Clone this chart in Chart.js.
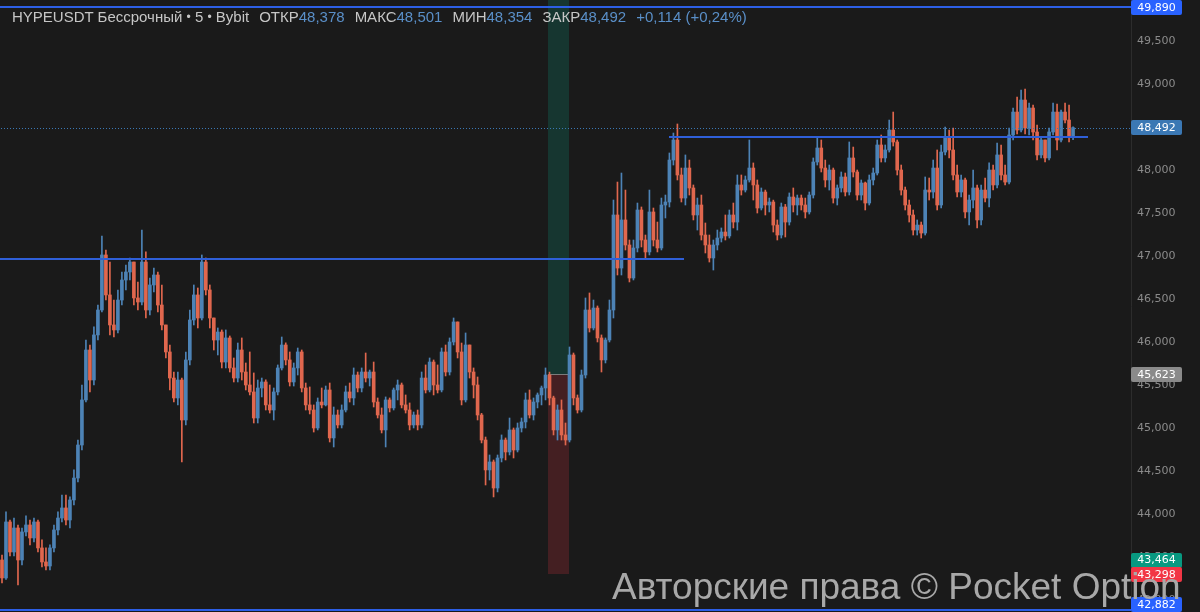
<!DOCTYPE html>
<html lang="ru">
<head>
<meta charset="UTF-8">
<title>HYPEUSDT 5m</title>
<script src="https://cdn.jsdelivr.net/npm/chart.js"></script>
<style>
  body { margin: 0; background: #1a1a1a; }
  .wrap { position: relative; width: 1200px; height: 612px; background: #1a1a1a; overflow: hidden; }
  .header { position: absolute; left: 12px; top: 8px; font: 15px "Liberation Sans", Arial, sans-serif; color: #c6c6c6; white-space: nowrap; }
  .header .v { color: #5a8fc8; }
  .header .g { margin-left: 10px; }
  .header .dot { font-size: 12px; vertical-align: 1px; }
  .watermark { position: absolute; left: 612px; top: 566px; font: 37px "Liberation Sans", Arial, sans-serif; color: #a8a8a8; white-space: nowrap; }
</style>
</head>
<body>
<div class="wrap">
  <canvas id="chart" width="1200" height="612"></canvas>
  <div class="header">HYPEUSDT Бессрочный <span class="dot">•</span> 5 <span class="dot">•</span> Bybit<span class="g">ОТКР</span><span class="v">48,378</span><span class="g">МАКС</span><span class="v">48,501</span><span class="g">МИН</span><span class="v">48,354</span><span class="g">ЗАКР</span><span class="v">48,492</span><span class="g v">+0,114 (+0,24%)</span></div>
  <div class="watermark">Авторские права © Pocket Option</div>
</div>
<script>
// 5-minute candles, oldest first. open of each candle = previous close
const firstOpen = 43465;
const closes = [
  43256, 43907, 43558, 43837, 43465, 43791, 43872, 43721, 43907, 43605,
  43442, 43395, 43605, 43814, 43953, 44070, 43930, 44163, 44418, 44802,
  45326, 45907, 45558, 46082, 46372, 47012, 46547, 46198, 46140, 46488,
  46721, 46814, 46930, 46512, 46465, 46930, 46372, 46663, 46779, 46430,
  46198, 45884, 45581, 45349, 45558, 45093, 45791, 46256, 46547, 46279,
  46930, 46605, 46279, 46023, 46116, 45767, 46047, 45698, 45581, 45907,
  45651, 45500, 45419, 45116, 45465, 45535, 45268, 45209, 45419, 45698,
  45965, 45791, 45535, 45698, 45884, 45465, 45268, 45209, 45000, 45302,
  45268, 45442, 44884, 45151, 45035, 45209, 45419, 45349, 45616, 45465,
  45651, 45581, 45651, 45302, 45151, 44977, 45326, 45233, 45442, 45500,
  45268, 45209, 45035, 45151, 45035, 45581, 45442, 45767, 45500, 45442,
  45884, 45651, 46000, 46233, 45884, 45326, 45965, 45651, 45500, 45151,
  44860, 44512, 44605, 44302, 44651, 44860, 44721, 44977, 44744, 45000,
  45070, 45326, 45151, 45302, 45384, 45465, 45616, 45349, 44977, 45209,
  44919, 44860, 45849, 45349, 45209, 45616, 46372, 46163, 46395, 46047,
  45791, 46023, 46372, 47477, 46860, 47419, 47128, 46744, 47093, 47535,
  47186, 47047, 47512, 47186, 47093, 47593, 47628, 48116, 48349, 47942,
  47674, 48023, 47791, 47477, 47593, 47244, 47128, 46977, 47128, 47209,
  47279, 47233, 47477, 47395, 47826, 47767, 47884, 48023, 47826, 47558,
  47744, 47593, 47628, 47360, 47244, 47570, 47395, 47686, 47593, 47674,
  47593, 47512, 47709, 48093, 48256, 48023, 47884, 48000, 47674, 47791,
  47919, 47744, 48140, 47977, 47709, 47849, 47616, 47884, 47965, 48291,
  48140, 48233, 48465, 48326, 48000, 47767, 47593, 47477, 47302, 47360,
  47267, 47767, 47744, 48023, 47593, 48209, 48372, 48233, 47942, 47744,
  47884, 47512, 47651, 47791, 47419, 47767, 47674, 48000, 47826, 48175,
  47942, 47860, 48407, 48674, 48465, 48814, 48488, 48721, 48442, 48175,
  48349, 48140, 48442, 48674, 48349, 48674, 48581, 48378, 48492
];
const highs = [
  43523, 44024, 43930, 43953, 43872, 43837, 43977, 43930, 43953, 43930,
  43698, 43605, 43640, 43872, 44024, 44221, 44221, 44198, 44512, 44860,
  45500, 46023, 45965, 46175, 46430, 47233, 47070, 46930, 46488, 46605,
  46814, 46895, 46977, 46930, 46698, 47302, 47047, 46744, 46860, 46814,
  46663, 46198, 45965, 45651, 45651, 45581, 45884, 46372, 46663, 46628,
  47012, 46977, 46663, 46279, 46163, 46140, 46140, 46070, 45814, 45988,
  46047, 45756, 45884, 45640, 45558, 45581, 45560, 45500, 45465, 45733,
  46058, 45990, 45884, 45756, 45930, 45907, 45523, 45477, 45268, 45349,
  45465, 45488, 45523, 45244, 45209, 45268, 45488, 45523, 45698, 45651,
  45698, 45872, 45674, 45767, 45349, 45233, 45361, 45349, 45465, 45558,
  45523, 45384, 45291, 45186, 45209, 45651, 45733, 45814, 45791, 45733,
  45930, 45965, 46047, 46279, 46233, 45988, 46105, 45965, 45698, 45593,
  45170, 44895, 44686, 44628, 44686, 44919, 44884, 45116, 45000, 45058,
  45116, 45407, 45442, 45349, 45407, 45488, 45698, 45650, 45370, 45268,
  45326, 45058, 45942, 45872, 45384, 45674, 46512, 46570, 46488, 46419,
  46082, 46047, 46488, 47651, 47860, 47965, 47767, 47186, 47186, 47616,
  47570, 47244, 47767, 47558, 47395, 47674, 47709, 48198, 48430, 48535,
  48023, 48175, 48116, 47826, 47674, 47709, 47384, 47244, 47186, 47302,
  47326, 47477, 47535, 47616, 47942, 47942, 47930, 48349, 48082, 47884,
  47791, 47767, 47674, 47650, 47419, 47616, 47600, 47733, 47791, 47709,
  47709, 47674, 47744, 48140, 48384, 48349, 48116, 48058, 48023, 47826,
  47977, 47965, 48326, 48267, 48000, 47884, 47860, 47942, 48023, 48349,
  48407, 48291, 48581, 48674, 48349, 48058, 47802, 47651, 47535, 47419,
  47395, 47919, 47907, 48116, 48233, 48291, 48500, 48465, 48488, 48058,
  47942, 47907, 47709, 48000, 47826, 47826, 47907, 48082, 48058, 48314,
  48291, 48058, 48488, 48721, 48849, 48930, 48942, 48779, 48756, 48523,
  48384, 48349, 48488, 48779, 48767, 48698, 48779, 48756, 48501
];
const lows = [
  43198, 43240, 43511, 43511, 43175, 43407, 43744, 43640, 43675, 43558,
  43384, 43349, 43349, 43558, 43756, 43907, 43872, 43837, 44105, 44372,
  44744, 45302, 45419, 45500, 46023, 46349, 46488, 46082, 46058, 46105,
  46430, 46605, 46721, 46430, 46372, 46430, 46279, 46314, 46582, 46349,
  46140, 45814, 45442, 45302, 45268, 44605, 45035, 45733, 46198, 46163,
  46256, 46547, 46163, 45907, 45849, 45698, 45698, 45651, 45535, 45535,
  45558, 45442, 45384, 45058, 45058, 45361, 45209, 45174, 45093, 45384,
  45674, 45733, 45488, 45488, 45616, 45419, 45209, 45163, 44953, 44977,
  45233, 45256, 44837, 44779, 45000, 45000, 45186, 45302, 45268, 45419,
  45419, 45535, 45488, 45244, 45116, 44942, 44779, 45186, 45209, 45326,
  45233, 45174, 44977, 45000, 44977, 45000, 45407, 45419, 45384, 45407,
  45419, 45605, 45616, 45965, 45814, 45268, 45302, 45581, 45349, 45093,
  44826, 44337, 44395, 44198, 44256, 44605, 44628, 44686, 44651, 44721,
  44953, 45000, 45116, 45093, 45233, 45268, 45326, 45268, 44919, 44860,
  44860, 44802, 44837, 45268, 45174, 45186, 45581, 46116, 46140, 46000,
  45651, 45756, 46000, 46279, 46779, 46779, 47070, 46698, 46721, 47047,
  47105, 46977, 47012, 47116, 47047, 47070, 47442, 47570, 48058, 47884,
  47628, 47593, 47709, 47419, 47302, 47186, 47035, 46930, 46837, 47070,
  47163, 47186, 47209, 47326, 47302, 47709, 47744, 47860, 47651, 47500,
  47535, 47477, 47512, 47279, 47186, 47209, 47221, 47360, 47512, 47477,
  47535, 47442, 47488, 47674, 48058, 47977, 47802, 47767, 47616, 47593,
  47744, 47698, 47709, 47919, 47651, 47651, 47535, 47593, 47826, 47942,
  48093, 48093, 48209, 48279, 47942, 47709, 47535, 47395, 47244, 47244,
  47209, 47244, 47651, 47674, 47535, 47558, 48175, 48140, 47884, 47686,
  47686, 47442, 47360, 47558, 47326, 47360, 47628, 47570, 47767, 47791,
  47884, 47826, 47837, 48349, 48419, 48442, 48419, 48407, 48349, 48116,
  48140, 48093, 48116, 48407, 48233, 48326, 48547, 48326, 48354
];

// price axis
const yMin = 42860;
const yMax = 49977;
const yTicks = [43000, 43500, 44000, 44500, 45000, 45500, 46000, 46500, 47000, 47500, 48000, 48500, 49000, 49500];

// drawn levels (price, from candle index, to candle index)
const levelPrices = [46965, 48384];
const levelFrom = [-0.5, 166.9];
const levelTo = [170.6, 271.7];
const topLine = 49890;
const bottomLine = 42882;
const lastPrice = 48492;

// long position tool
const zoneFrom = 136.6;
const zoneTo = 141.9;
const targetPrice = 50100;
const entryPrice = 45623;
const stopPrice = 43298;

// price scale badges
const badgePrices = [49890, 48492, 45623, 43464, 43298, 42882];

const SLOT_COUNT = 283; // candles + empty space on the right
const UP = '#4d83b6';
const DOWN = '#e0674e';

const opens = closes.map((c, i) => i === 0 ? firstOpen : closes[i - 1]);
const candleColors = closes.map((c, i) => c >= opens[i] ? UP : DOWN);
const slots = Array.from({ length: SLOT_COUNT }, (_, i) => i);

const overlay = {
  id: 'overlay',
  beforeDatasetsDraw(chart) {
    const { ctx, chartArea: a, scales: { x, y } } = chart;
    ctx.save();
    ctx.beginPath();
    ctx.rect(a.left, a.top, a.width, a.height);
    ctx.clip();
    const x0 = Math.round(x.getPixelForValue(zoneFrom));
    const x1 = Math.round(x.getPixelForValue(zoneTo));
    const yT = y.getPixelForValue(targetPrice);
    const yE = Math.round(y.getPixelForValue(entryPrice));
    const yS = Math.round(y.getPixelForValue(stopPrice));
    ctx.fillStyle = 'rgba(8,153,129,0.22)';
    ctx.fillRect(x0, yT, x1 - x0, yE - yT);
    ctx.fillStyle = 'rgba(242,54,69,0.2)';
    ctx.fillRect(x0, yE, x1 - x0, yS - yE);
    ctx.fillStyle = '#7b7b7b';
    ctx.fillRect(x0, yE, x1 - x0, 1);
    ctx.restore();
  },
  afterDatasetsDraw(chart) {
    const { ctx, chartArea: a, scales: { x, y } } = chart;
    // solid levels drawn as filled rows so they stay crisp
    const hline = (price, xa, xb, color) => {
      const py = Math.min(Math.round(y.getPixelForValue(price)) - 1, chart.height - 2);
      ctx.fillStyle = color;
      ctx.fillRect(Math.round(xa), py, Math.round(xb - xa), 2);
    };
    ctx.save();
    hline(topLine, a.left, a.right, '#2d5fe6');
    hline(bottomLine, a.left, a.right, '#2d5fe6');
    levelPrices.forEach((p, i) => {
      hline(p, x.getPixelForValue(levelFrom[i]), x.getPixelForValue(levelTo[i]), '#2f5fd8');
    });
    // dotted last price line
    const py = Math.round(y.getPixelForValue(lastPrice));
    ctx.fillStyle = '#3b78b4';
    for (let px = a.left + 1; px < a.right; px += 3) ctx.fillRect(px, py, 1, 1);
    ctx.restore();
  },
  afterDraw(chart) {
    const { ctx, chartArea: a, scales: { y } } = chart;
    const colors = ['#2962ff', '#3b78b4', '#8a8a8a', '#089981', '#f23645', '#2962ff'];
    ctx.save();
    ctx.font = '11px "DejaVu Sans"';
    ctx.textAlign = 'center';
    ctx.textBaseline = 'middle';
    badgePrices.forEach((p, i) => {
      let cy = y.getPixelForValue(p);
      cy = Math.min(Math.max(cy, 7.5), chart.height - 7.5);
      ctx.fillStyle = colors[i];
      ctx.beginPath();
      ctx.roundRect(a.right, Math.round(cy - 7.5), 51, 15, 2);
      ctx.fill();
      ctx.fillStyle = '#ffffff';
      ctx.fillText(p.toLocaleString('en-US'), a.right + 25.5, cy + 0.5);
    });
    ctx.restore();
  }
};

new Chart(document.getElementById('chart'), {
  type: 'bar',
  data: {
    labels: slots,
    datasets: [
      {
        label: 'body',
        data: closes.map((c, i) => [opens[i], c]),
        backgroundColor: candleColors,
        barThickness: 3,
        minBarLength: 1,
        grouped: false
      },
      {
        label: 'wick',
        data: closes.map((c, i) => [lows[i], highs[i]]),
        backgroundColor: candleColors,
        barThickness: 1,
        grouped: false
      }
    ]
  },
  options: {
    responsive: false,
    animation: false,
    layout: { padding: 0 },
    plugins: { legend: { display: false }, tooltip: { enabled: false } },
    scales: {
      x: { display: false, offset: true, grid: { display: false } },
      y: {
        position: 'right',
        min: yMin,
        max: yMax,
        afterBuildTicks: s => { s.ticks = yTicks.map(v => ({ value: v })); },
        afterFit: s => { s.width = 69; s.paddingTop = 0; s.paddingBottom = 0; },
        grid: { display: false, drawTicks: false },
        border: { display: true, color: '#2c2c2c' },
        ticks: {
          color: '#8b8b8b',
          font: { family: 'DejaVu Sans', size: 11 },
          padding: 6,
          crossAlign: 'near',
          callback: v => v.toLocaleString('en-US')
        }
      }
    }
  },
  plugins: [overlay]
});
</script>
</body>
</html>
